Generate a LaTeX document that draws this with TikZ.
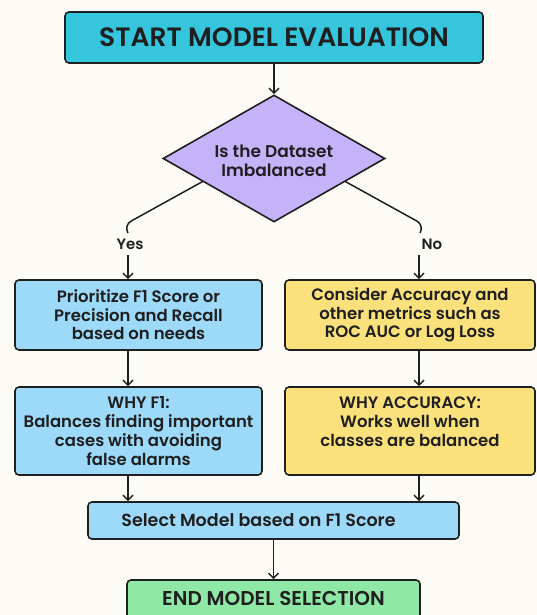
\documentclass[tikz,border=0pt]{standalone}
\usepackage{fontspec}
\setmainfont{Poppins}[BoldFont={Poppins SemiBold}]
\usetikzlibrary{shapes.geometric,arrows.meta,calc}
\definecolor{bg}{HTML}{FCFBF6}
\definecolor{cyanbox}{HTML}{35C5DD}
\definecolor{lav}{HTML}{C4B3F8}
\definecolor{lblue}{HTML}{9DD9F8}
\definecolor{yel}{HTML}{FAE17C}
\definecolor{grn}{HTML}{8FE8A6}
\definecolor{ink}{HTML}{1F1F1F}
\tikzset{
  box/.style={draw=ink, line width=1.6pt, rounded corners=4pt, align=center, inner sep=0pt, font=\fontsize{16.5}{18.5}\selectfont\bfseries, text=ink},
  txt/.style={align=center, inner sep=0pt, font=\fontsize{16.5}{19}\selectfont\bfseries, text=ink},
  arr/.style={draw=ink, line width=1.4pt, -{Straight Barb[length=5pt,width=10pt,line width=1.4pt]}},
  lbl/.style={font=\fontsize{15}{16}\selectfont\bfseries, text=ink, inner sep=0pt}
}
\begin{document}
\begin{tikzpicture}[x=1pt,y=-1pt]
\useasboundingbox (0,0) rectangle (537,615);
\clip (0,0) rectangle (537,615);
\fill[bg] (0,0) rectangle (537,615);
% top
\node[box, fill=cyanbox, minimum width=418pt, minimum height=51pt, font=\fontsize{26.5}{30}\selectfont\bfseries] (start) at (274,37.5) {START MODEL EVALUATION};
\node[draw=ink, line width=1.6pt, diamond, fill=lav, minimum width=222pt, minimum height=127pt, inner sep=0pt] (dec) at (274,158.5) {};
\node[txt, font=\fontsize{17}{19.5}\selectfont\bfseries] (dect) at (274,161) {Is the Dataset\\Imbalanced};
\draw[arr] (start) -- (dec);
% branches
\coordinate (dl) at ($(dec.west)!0.36!(dec.south)$);
\coordinate (dr) at ($(dec.east)!0.36!(dec.south)$);
\coordinate (yt) at (128,233);
\coordinate (nt) at (420,233);
\node[lbl] (yes) at (130,244) {Yes};
\node[lbl] (no) at (432,244) {No};
\draw[ink, line width=1.5pt, rounded corners=8pt] (dl) -- (124,225) -- (yt);
\draw[ink, line width=1.5pt, rounded corners=8pt] (dr) -- (424,225) -- (nt);
% row 1
\node[box, fill=lblue, minimum width=247pt, minimum height=70pt] (p1) at (138.5,315) {Prioritize F1 Score or\\Precision and Recall\\based on needs};
\node[box, fill=yel, minimum width=250pt, minimum height=70pt] (a1) at (410,315) {Consider Accuracy and\\other metrics such as\\ROC AUC or Log Loss};
\draw[arr] (128,255) -- (p1.north -| 128,0);
\draw[arr] (419,255) -- (a1.north -| 419,0);
% row 2
\node[box, fill=lblue, minimum width=247pt, minimum height=88pt, font=\fontsize{16.5}{19}\selectfont\bfseries] (p2) at (138.5,431) {WHY F1:\\Balances finding important\\cases with avoiding\\false alarms};
\node[box, fill=yel, minimum width=250pt, minimum height=88pt] (a2) at (410,431) {};
\node[txt] (a2t) at (410,422) {WHY ACCURACY:\\Works well when\\classes are balanced};
\draw[arr] (p1.south -| 128,0) -- (p2.north -| 128,0);
\draw[arr] (a1.south -| 419,0) -- (a2.north -| 419,0);
% select
\node[box, fill=lblue, minimum width=371pt, minimum height=37pt, font=\fontsize{17.5}{20}\selectfont\bfseries] (sel) at (273.5,520.5) {Select Model based on F1 Score\hspace*{30pt}};
\draw[arr] (p2.south -| 128,0) -- (sel.north -| 128,0);
\draw[arr] (a2.south -| 419,0) -- (sel.north -| 419,0);
% end
\node[box, fill=grn, minimum width=293pt, minimum height=50pt] (end) at (273.5,605) {};
\node[lbl, font=\fontsize{20}{24}\selectfont\bfseries] (endt) at (273.5,598) {END MODEL SELECTION};
\draw[arr] (sel) -- (end);
\end{tikzpicture}
\end{document}
